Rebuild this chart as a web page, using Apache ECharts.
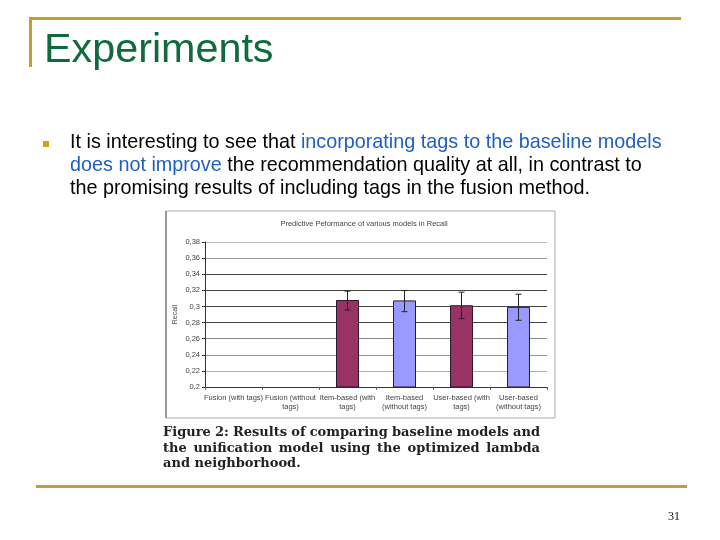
<!DOCTYPE html>
<html>
<head>
<meta charset="utf-8">
<script src="https://cdn.jsdelivr.net/npm/echarts@6/dist/echarts.min.js"></script>
<style>
  html, body { margin: 0; padding: 0; background: #fff; }
  #main { width: 720px; height: 540px; }
</style>
</head>
<body>
<div id="main"></div>
<script>
  // chart data
  var categories = ['Fusion (with tags)', 'Fusion (without\ntags)', 'Item-based (with\ntags)', 'Item-based\n(without tags)', 'User-based (with\ntags)', 'User-based\n(without tags)']
  var recall = [null, null, 0.308, 0.3075, 0.3015, 0.2995]
  var errLow = [null, null, 0.2955, 0.2935, 0.2848, 0.2828]
  var errHigh = [null, null, 0.319, 0.3197, 0.3177, 0.3152]
  var yTicks = [0.2, 0.22, 0.24, 0.26, 0.28, 0.3, 0.32, 0.34, 0.36, 0.38]

  var gold = '#c4a032'
  var green = '#0f6b3b'
  var blue = '#1f5fc4'
  var bodyFont = '19.8px "Liberation Sans"'
  var capFont = 'bold 13px "DejaVu Serif"'

  var errData = []
  recall.forEach(function (v, i) {
    if (errLow[i] != null) errData.push([i, errLow[i], errHigh[i]])
  })

  // justified caption lines: spread words over the column width
  var ctx = document.createElement('canvas').getContext('2d')
  ctx.font = capFont
  function justify(line, x, y, width) {
    var words = line.split(' ')
    var total = 0
    words.forEach(function (w) { total += ctx.measureText(w).width })
    var gap = (width - total) / (words.length - 1)
    var out = []
    var cx = x
    words.forEach(function (w) {
      out.push({ type: 'text', style: { text: w, x: cx, y: y, font: capFont, fill: '#222', textVerticalAlign: 'middle' } })
      cx += ctx.measureText(w).width + gap
    })
    return out
  }

  var chart = echarts.init(document.getElementById('main'))

  var graphics = [
    // slide frame
    { type: 'rect', shape: { x: 29, y: 17, width: 652, height: 3 }, style: { fill: gold } },
    { type: 'rect', shape: { x: 29, y: 17, width: 3, height: 50 }, style: { fill: gold } },
    { type: 'rect', shape: { x: 36, y: 485, width: 651, height: 3 }, style: { fill: gold } },
    {
      type: 'text', style: { text: 'Experiments', x: 44, y: 51, font: '41.3px "Liberation Sans"', fill: green, textVerticalAlign: 'middle' }
    },
    { type: 'rect', shape: { x: 43, y: 141, width: 6, height: 6 }, style: { fill: '#d0a020' } },
    {
      type: 'text',
      style: {
        x: 70, y: 143, textVerticalAlign: 'middle',
        text: '{k|It is interesting to see that }{b|incorporating tags to the baseline models}',
        rich: { k: { font: bodyFont, fill: '#000' }, b: { font: bodyFont, fill: blue } }
      }
    },
    {
      type: 'text',
      style: {
        x: 70, y: 166, textVerticalAlign: 'middle',
        text: '{b|does not improve}{k| the recommendation quality at all, in contrast to}',
        rich: { k: { font: bodyFont, fill: '#000' }, b: { font: bodyFont, fill: blue } }
      }
    },
    {
      type: 'text',
      style: { text: 'the promising results of including tags in the fusion method.', x: 70, y: 189, font: bodyFont, fill: '#000', textVerticalAlign: 'middle' }
    },
    // picture frame of the figure
    { type: 'rect', z: -1, shape: { x: 166, y: 211, width: 389, height: 207 }, style: { fill: '#fff', stroke: '#aaa', lineWidth: 1 } },
    { type: 'rect', shape: { x: 165, y: 211, width: 2, height: 207 }, style: { fill: '#999' } },
    {
      type: 'text', style: { text: 'and neighborhood.', x: 163, y: 464, font: capFont, fill: '#222', textVerticalAlign: 'middle' }
    },
    {
      type: 'text', style: { text: '31', x: 668, y: 517, font: '12px "Liberation Serif"', fill: '#111', textVerticalAlign: 'middle' }
    }
  ]
  graphics = graphics
    .concat(justify('Figure 2: Results of comparing baseline models and', 163, 433, 377))
    .concat(justify('the unification model using the optimized lambda', 163, 449, 377))

  var option = {
    animation: false,
    title: {
      text: 'Predictive Peformance of various models in Recall',
      left: 359,
      top: 215,
      textAlign: 'center',
      textStyle: { fontSize: 7.5, fontWeight: 'normal', color: '#444', fontFamily: 'Liberation Sans' }
    },
    grid: { left: 205, right: 173, top: 242, bottom: 153 },
    xAxis: {
      type: 'category',
      data: categories,
      axisLine: { lineStyle: { color: '#333' } },
      axisTick: { show: true, length: 3, lineStyle: { color: '#666' } },
      axisLabel: { fontSize: 7.5, color: '#444', lineHeight: 9, margin: 6, interval: 0, fontFamily: 'Liberation Sans' }
    },
    yAxis: {
      type: 'value',
      min: yTicks[0],
      max: yTicks[yTicks.length - 1],
      interval: 0.02,
      name: 'Recall',
      nameLocation: 'middle',
      nameGap: 26,
      nameTextStyle: { fontSize: 7, color: '#444', fontFamily: 'Liberation Sans' },
      axisLine: { show: true, lineStyle: { color: '#333' } },
      axisTick: { show: true, length: 3, lineStyle: { color: '#333' } },
      axisLabel: {
        fontSize: 7.5, color: '#444', margin: 5, fontFamily: 'Liberation Sans',
        formatter: function (v) { return String(+v.toFixed(2)).replace('.', ',') }
      },
      splitLine: {
        lineStyle: {
          color: ['#bbb', '#b0b0b0', '#999', '#888', '#444', '#444', '#444', '#444', '#999', '#bbb']
        }
      }
    },
    series: [
      {
        type: 'bar',
        data: recall,
        barWidth: 23,
        itemStyle: {
          color: function (p) { return p.dataIndex % 2 === 0 ? '#993366' : '#9999ff' },
          borderColor: '#2a1a2a',
          borderWidth: 1
        }
      },
      {
        type: 'custom',
        data: errData,
        z: 5,
        renderItem: function (params, api) {
          var lo = api.coord([api.value(0), api.value(1)])
          var hi = api.coord([api.value(0), api.value(2)])
          var st = { stroke: '#222', lineWidth: 1 }
          return {
            type: 'group',
            children: [
              { type: 'line', shape: { x1: lo[0], y1: lo[1], x2: hi[0], y2: hi[1] }, style: st },
              { type: 'line', shape: { x1: lo[0] - 3, y1: lo[1], x2: lo[0] + 3, y2: lo[1] }, style: st },
              { type: 'line', shape: { x1: hi[0] - 3, y1: hi[1], x2: hi[0] + 3, y2: hi[1] }, style: st }
            ]
          }
        }
      }
    ],
    graphic: graphics
  }

  chart.setOption(option)
</script>
</body>
</html>
